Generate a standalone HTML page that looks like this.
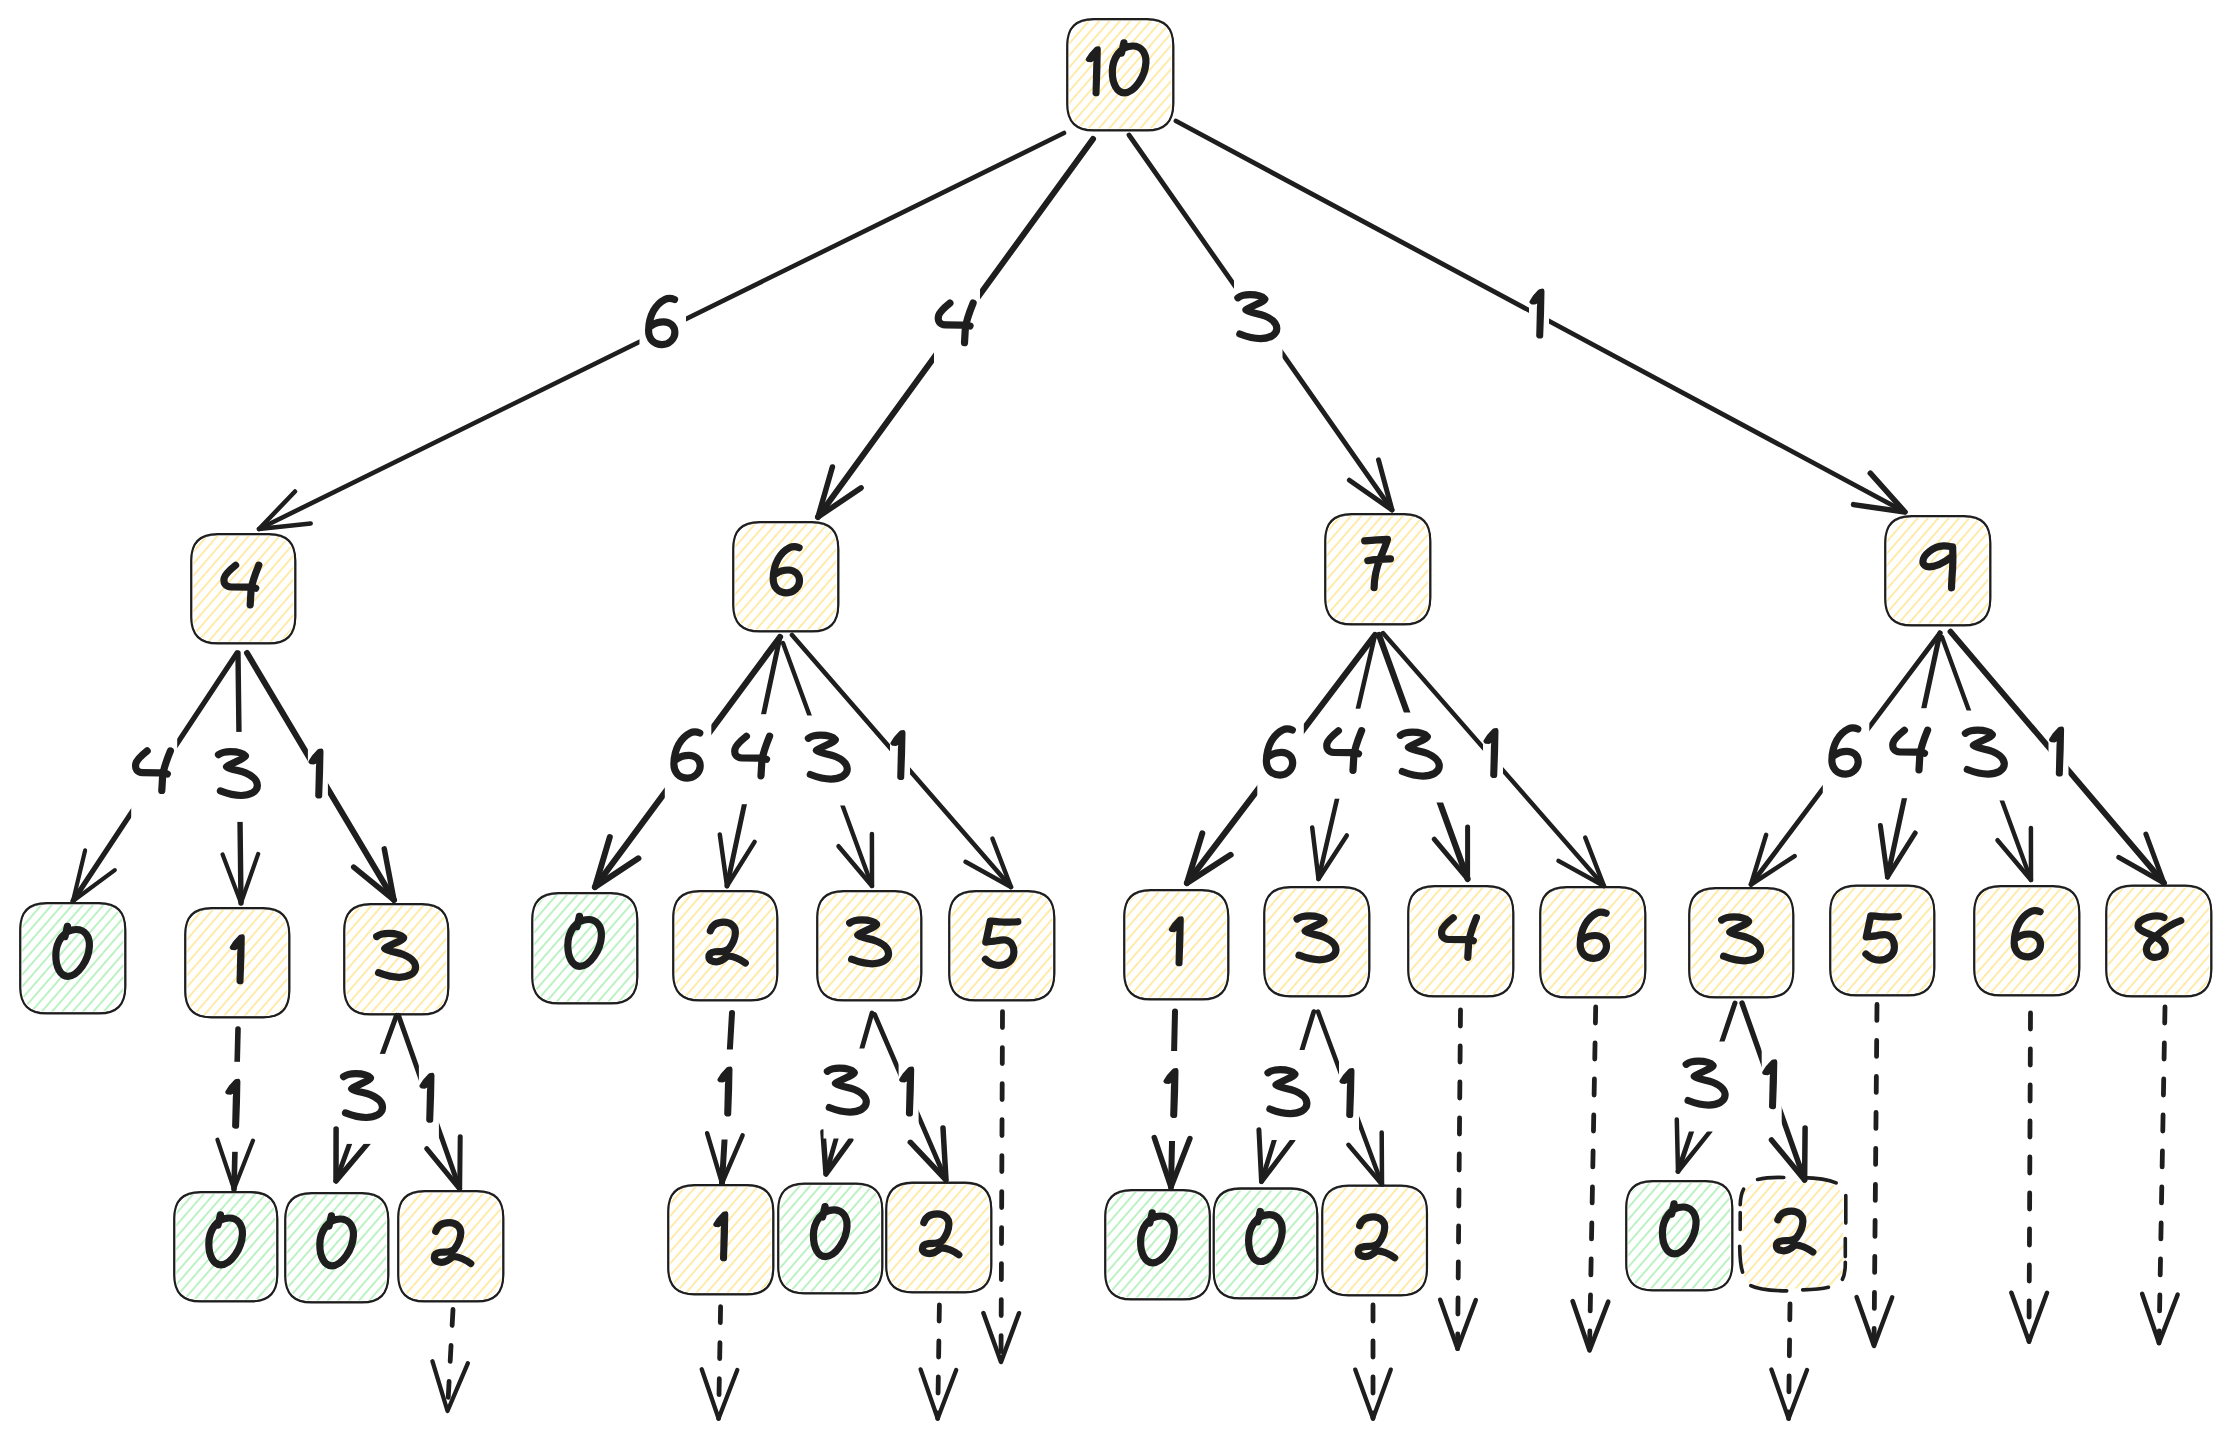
<!DOCTYPE html><html><head><meta charset="utf-8"><style>html,body{margin:0;padding:0;background:#fff;}body{width:2231px;height:1445px;overflow:hidden;font-family:"Liberation Sans",sans-serif;}svg{display:block;}</style></head><body><svg width="2231" height="1445" viewBox="0 0 2231 1445"><defs><pattern id="hy" patternUnits="userSpaceOnUse" width="40" height="7.8" patternTransform="rotate(-49)"><line x1="0" y1="1" x2="40" y2="1" stroke="#ffe38a" stroke-width="1.5"/></pattern><pattern id="hg" patternUnits="userSpaceOnUse" width="40" height="7.8" patternTransform="rotate(-49)"><line x1="0" y1="1" x2="40" y2="1" stroke="#a4eeae" stroke-width="1.5"/></pattern><mask id="m0" maskUnits="userSpaceOnUse" x="0" y="0" width="2231" height="1445"><rect x="0" y="0" width="2231" height="1445" fill="#fff"/><rect x="639.5" y="283" width="46.5" height="90" fill="#000"/></mask><mask id="m1" maskUnits="userSpaceOnUse" x="0" y="0" width="2231" height="1445"><rect x="0" y="0" width="2231" height="1445" fill="#fff"/><rect x="934" y="281.1" width="46" height="90" fill="#000"/></mask><mask id="m2" maskUnits="userSpaceOnUse" x="0" y="0" width="2231" height="1445"><rect x="0" y="0" width="2231" height="1445" fill="#fff"/><rect x="1234" y="275" width="48.5" height="90" fill="#000"/></mask><mask id="m3" maskUnits="userSpaceOnUse" x="0" y="0" width="2231" height="1445"><rect x="0" y="0" width="2231" height="1445" fill="#fff"/><rect x="1529" y="271.6" width="20" height="90" fill="#000"/></mask><mask id="m4" maskUnits="userSpaceOnUse" x="0" y="0" width="2231" height="1445"><rect x="0" y="0" width="2231" height="1445" fill="#fff"/><rect x="131.2" y="728.9" width="46" height="90" fill="#000"/></mask><mask id="m5" maskUnits="userSpaceOnUse" x="0" y="0" width="2231" height="1445"><rect x="0" y="0" width="2231" height="1445" fill="#fff"/><rect x="214.6" y="731.9" width="48.5" height="90" fill="#000"/></mask><mask id="m6" maskUnits="userSpaceOnUse" x="0" y="0" width="2231" height="1445"><rect x="0" y="0" width="2231" height="1445" fill="#fff"/><rect x="307.9" y="731.5" width="20" height="90" fill="#000"/></mask><mask id="m7" maskUnits="userSpaceOnUse" x="0" y="0" width="2231" height="1445"><rect x="0" y="0" width="2231" height="1445" fill="#fff"/><rect x="664.8" y="716.5" width="46.5" height="90" fill="#000"/></mask><mask id="m8" maskUnits="userSpaceOnUse" x="0" y="0" width="2231" height="1445"><rect x="0" y="0" width="2231" height="1445" fill="#fff"/><rect x="730.5" y="714.2" width="46" height="90" fill="#000"/></mask><mask id="m9" maskUnits="userSpaceOnUse" x="0" y="0" width="2231" height="1445"><rect x="0" y="0" width="2231" height="1445" fill="#fff"/><rect x="804.5" y="715.5" width="48.5" height="90" fill="#000"/></mask><mask id="m10" maskUnits="userSpaceOnUse" x="0" y="0" width="2231" height="1445"><rect x="0" y="0" width="2231" height="1445" fill="#fff"/><rect x="890" y="713" width="20" height="90" fill="#000"/></mask><mask id="m11" maskUnits="userSpaceOnUse" x="0" y="0" width="2231" height="1445"><rect x="0" y="0" width="2231" height="1445" fill="#fff"/><rect x="1257.3" y="713.5" width="46.5" height="90" fill="#000"/></mask><mask id="m12" maskUnits="userSpaceOnUse" x="0" y="0" width="2231" height="1445"><rect x="0" y="0" width="2231" height="1445" fill="#fff"/><rect x="1322.5" y="708.7" width="46" height="90" fill="#000"/></mask><mask id="m13" maskUnits="userSpaceOnUse" x="0" y="0" width="2231" height="1445"><rect x="0" y="0" width="2231" height="1445" fill="#fff"/><rect x="1396.5" y="712.5" width="48.5" height="90" fill="#000"/></mask><mask id="m14" maskUnits="userSpaceOnUse" x="0" y="0" width="2231" height="1445"><rect x="0" y="0" width="2231" height="1445" fill="#fff"/><rect x="1483" y="711" width="20" height="90" fill="#000"/></mask><mask id="m15" maskUnits="userSpaceOnUse" x="0" y="0" width="2231" height="1445"><rect x="0" y="0" width="2231" height="1445" fill="#fff"/><rect x="1822.8" y="712.5" width="46.5" height="90" fill="#000"/></mask><mask id="m16" maskUnits="userSpaceOnUse" x="0" y="0" width="2231" height="1445"><rect x="0" y="0" width="2231" height="1445" fill="#fff"/><rect x="1888.5" y="708.2" width="46" height="90" fill="#000"/></mask><mask id="m17" maskUnits="userSpaceOnUse" x="0" y="0" width="2231" height="1445"><rect x="0" y="0" width="2231" height="1445" fill="#fff"/><rect x="1961.5" y="710.5" width="48.5" height="90" fill="#000"/></mask><mask id="m18" maskUnits="userSpaceOnUse" x="0" y="0" width="2231" height="1445"><rect x="0" y="0" width="2231" height="1445" fill="#fff"/><rect x="2048.5" y="709.5" width="20" height="90" fill="#000"/></mask><mask id="m19" maskUnits="userSpaceOnUse" x="0" y="0" width="2231" height="1445"><rect x="0" y="0" width="2231" height="1445" fill="#fff"/><rect x="224.8" y="1061.8" width="20" height="90" fill="#000"/></mask><mask id="m20" maskUnits="userSpaceOnUse" x="0" y="0" width="2231" height="1445"><rect x="0" y="0" width="2231" height="1445" fill="#fff"/><rect x="339.7" y="1053.9" width="48.5" height="90" fill="#000"/></mask><mask id="m21" maskUnits="userSpaceOnUse" x="0" y="0" width="2231" height="1445"><rect x="0" y="0" width="2231" height="1445" fill="#fff"/><rect x="418.9" y="1055.7" width="20" height="90" fill="#000"/></mask><mask id="m23" maskUnits="userSpaceOnUse" x="0" y="0" width="2231" height="1445"><rect x="0" y="0" width="2231" height="1445" fill="#fff"/><rect x="717" y="1049.5" width="20" height="90" fill="#000"/></mask><mask id="m24" maskUnits="userSpaceOnUse" x="0" y="0" width="2231" height="1445"><rect x="0" y="0" width="2231" height="1445" fill="#fff"/><rect x="823.5" y="1048.5" width="48.5" height="90" fill="#000"/></mask><mask id="m25" maskUnits="userSpaceOnUse" x="0" y="0" width="2231" height="1445"><rect x="0" y="0" width="2231" height="1445" fill="#fff"/><rect x="898.6" y="1049.5" width="20" height="90" fill="#000"/></mask><mask id="m29" maskUnits="userSpaceOnUse" x="0" y="0" width="2231" height="1445"><rect x="0" y="0" width="2231" height="1445" fill="#fff"/><rect x="1163" y="1051" width="20" height="90" fill="#000"/></mask><mask id="m30" maskUnits="userSpaceOnUse" x="0" y="0" width="2231" height="1445"><rect x="0" y="0" width="2231" height="1445" fill="#fff"/><rect x="1264.1" y="1050" width="48.5" height="90" fill="#000"/></mask><mask id="m31" maskUnits="userSpaceOnUse" x="0" y="0" width="2231" height="1445"><rect x="0" y="0" width="2231" height="1445" fill="#fff"/><rect x="1339" y="1051" width="20" height="90" fill="#000"/></mask><mask id="m35" maskUnits="userSpaceOnUse" x="0" y="0" width="2231" height="1445"><rect x="0" y="0" width="2231" height="1445" fill="#fff"/><rect x="1682.3" y="1041.5" width="48.5" height="90" fill="#000"/></mask><mask id="m36" maskUnits="userSpaceOnUse" x="0" y="0" width="2231" height="1445"><rect x="0" y="0" width="2231" height="1445" fill="#fff"/><rect x="1761.7" y="1042.3" width="20" height="90" fill="#000"/></mask></defs><rect width="2231" height="1445" fill="#ffffff"/><g><path d="M1093.3 21 L1147.2 21 Q1171.2 21 1171.2 45 L1171.2 104.4 Q1171.2 128.4 1147.2 128.4 L1093.3 128.4 Q1069.3 128.4 1069.3 104.4 L1069.3 45 Q1069.3 21 1093.3 21 Z" fill="url(#hy)"/><path d="M1093.3 19 L1147.2 19 Q1173.2 19 1173.2 45 L1173.2 104.4 Q1173.2 130.4 1147.2 130.4 L1093.3 130.4 Q1067.3 130.4 1067.3 104.4 L1067.3 45 Q1067.3 19 1093.3 19 Z" fill="none" stroke="#1e1e1e" stroke-width="2.1"/><path d="M1094.2 19.9 L1146.4 19.9 Q1173.9 19.9 1173.9 47.4 L1173.9 102.4 Q1173.9 129.9 1146.4 129.9 L1094.2 129.9 Q1066.7 129.9 1066.7 102.4 L1066.7 47.4 Q1066.7 19.9 1094.2 19.9 Z" fill="none" stroke="#1e1e1e" stroke-width="0.9" opacity="0.85"/><path d="M217.3 536 L269.2 536 Q293.2 536 293.2 560 L293.2 617.4 Q293.2 641.4 269.2 641.4 L217.3 641.4 Q193.3 641.4 193.3 617.4 L193.3 560 Q193.3 536 217.3 536 Z" fill="url(#hy)"/><path d="M217.3 534 L269.2 534 Q295.2 534 295.2 560 L295.2 617.4 Q295.2 643.4 269.2 643.4 L217.3 643.4 Q191.3 643.4 191.3 617.4 L191.3 560 Q191.3 534 217.3 534 Z" fill="none" stroke="#1e1e1e" stroke-width="2.1"/><path d="M218.2 534.9 L268.4 534.9 Q295.9 534.9 295.9 562.4 L295.9 615.4 Q295.9 642.9 268.4 642.9 L218.2 642.9 Q190.7 642.9 190.7 615.4 L190.7 562.4 Q190.7 534.9 218.2 534.9 Z" fill="none" stroke="#1e1e1e" stroke-width="0.9" opacity="0.85"/><path d="M759.3 524 L812.2 524 Q836.2 524 836.2 548 L836.2 605.4 Q836.2 629.4 812.2 629.4 L759.3 629.4 Q735.3 629.4 735.3 605.4 L735.3 548 Q735.3 524 759.3 524 Z" fill="url(#hy)"/><path d="M759.3 522 L812.2 522 Q838.2 522 838.2 548 L838.2 605.4 Q838.2 631.4 812.2 631.4 L759.3 631.4 Q733.3 631.4 733.3 605.4 L733.3 548 Q733.3 522 759.3 522 Z" fill="none" stroke="#1e1e1e" stroke-width="2.1"/><path d="M760.2 522.9 L811.4 522.9 Q838.9 522.9 838.9 550.4 L838.9 603.4 Q838.9 630.9 811.4 630.9 L760.2 630.9 Q732.7 630.9 732.7 603.4 L732.7 550.4 Q732.7 522.9 760.2 522.9 Z" fill="none" stroke="#1e1e1e" stroke-width="0.9" opacity="0.85"/><path d="M1351.3 516 L1404.2 516 Q1428.2 516 1428.2 540 L1428.2 598.4 Q1428.2 622.4 1404.2 622.4 L1351.3 622.4 Q1327.3 622.4 1327.3 598.4 L1327.3 540 Q1327.3 516 1351.3 516 Z" fill="url(#hy)"/><path d="M1351.3 514 L1404.2 514 Q1430.2 514 1430.2 540 L1430.2 598.4 Q1430.2 624.4 1404.2 624.4 L1351.3 624.4 Q1325.3 624.4 1325.3 598.4 L1325.3 540 Q1325.3 514 1351.3 514 Z" fill="none" stroke="#1e1e1e" stroke-width="2.1"/><path d="M1352.2 514.9 L1403.4 514.9 Q1430.9 514.9 1430.9 542.4 L1430.9 596.4 Q1430.9 623.9 1403.4 623.9 L1352.2 623.9 Q1324.7 623.9 1324.7 596.4 L1324.7 542.4 Q1324.7 514.9 1352.2 514.9 Z" fill="none" stroke="#1e1e1e" stroke-width="0.9" opacity="0.85"/><path d="M1911.3 518 L1964.2 518 Q1988.2 518 1988.2 542 L1988.2 599.4 Q1988.2 623.4 1964.2 623.4 L1911.3 623.4 Q1887.3 623.4 1887.3 599.4 L1887.3 542 Q1887.3 518 1911.3 518 Z" fill="url(#hy)"/><path d="M1911.3 516 L1964.2 516 Q1990.2 516 1990.2 542 L1990.2 599.4 Q1990.2 625.4 1964.2 625.4 L1911.3 625.4 Q1885.3 625.4 1885.3 599.4 L1885.3 542 Q1885.3 516 1911.3 516 Z" fill="none" stroke="#1e1e1e" stroke-width="2.1"/><path d="M1912.2 516.9 L1963.4 516.9 Q1990.9 516.9 1990.9 544.4 L1990.9 597.4 Q1990.9 624.9 1963.4 624.9 L1912.2 624.9 Q1884.7 624.9 1884.7 597.4 L1884.7 544.4 Q1884.7 516.9 1912.2 516.9 Z" fill="none" stroke="#1e1e1e" stroke-width="0.9" opacity="0.85"/><path d="M46.3 905 L99.2 905 Q123.2 905 123.2 929 L123.2 987.4 Q123.2 1011.4 99.2 1011.4 L46.3 1011.4 Q22.3 1011.4 22.3 987.4 L22.3 929 Q22.3 905 46.3 905 Z" fill="url(#hg)"/><path d="M46.3 903 L99.2 903 Q125.2 903 125.2 929 L125.2 987.4 Q125.2 1013.4 99.2 1013.4 L46.3 1013.4 Q20.3 1013.4 20.3 987.4 L20.3 929 Q20.3 903 46.3 903 Z" fill="none" stroke="#1e1e1e" stroke-width="2.1"/><path d="M47.2 903.9 L98.4 903.9 Q125.9 903.9 125.9 931.4 L125.9 985.4 Q125.9 1012.9 98.4 1012.9 L47.2 1012.9 Q19.7 1012.9 19.7 985.4 L19.7 931.4 Q19.7 903.9 47.2 903.9 Z" fill="none" stroke="#1e1e1e" stroke-width="0.9" opacity="0.85"/><path d="M211.3 910 L263.2 910 Q287.2 910 287.2 934 L287.2 991.4 Q287.2 1015.4 263.2 1015.4 L211.3 1015.4 Q187.3 1015.4 187.3 991.4 L187.3 934 Q187.3 910 211.3 910 Z" fill="url(#hy)"/><path d="M211.3 908 L263.2 908 Q289.2 908 289.2 934 L289.2 991.4 Q289.2 1017.4 263.2 1017.4 L211.3 1017.4 Q185.3 1017.4 185.3 991.4 L185.3 934 Q185.3 908 211.3 908 Z" fill="none" stroke="#1e1e1e" stroke-width="2.1"/><path d="M212.2 908.9 L262.4 908.9 Q289.9 908.9 289.9 936.4 L289.9 989.4 Q289.9 1016.9 262.4 1016.9 L212.2 1016.9 Q184.7 1016.9 184.7 989.4 L184.7 936.4 Q184.7 908.9 212.2 908.9 Z" fill="none" stroke="#1e1e1e" stroke-width="0.9" opacity="0.85"/><path d="M370.3 906 L422.2 906 Q446.2 906 446.2 930 L446.2 988.4 Q446.2 1012.4 422.2 1012.4 L370.3 1012.4 Q346.3 1012.4 346.3 988.4 L346.3 930 Q346.3 906 370.3 906 Z" fill="url(#hy)"/><path d="M370.3 904 L422.2 904 Q448.2 904 448.2 930 L448.2 988.4 Q448.2 1014.4 422.2 1014.4 L370.3 1014.4 Q344.3 1014.4 344.3 988.4 L344.3 930 Q344.3 904 370.3 904 Z" fill="none" stroke="#1e1e1e" stroke-width="2.1"/><path d="M371.2 904.9 L421.4 904.9 Q448.9 904.9 448.9 932.4 L448.9 986.4 Q448.9 1013.9 421.4 1013.9 L371.2 1013.9 Q343.7 1013.9 343.7 986.4 L343.7 932.4 Q343.7 904.9 371.2 904.9 Z" fill="none" stroke="#1e1e1e" stroke-width="0.9" opacity="0.85"/><path d="M558.3 895 L611.2 895 Q635.2 895 635.2 919 L635.2 977.4 Q635.2 1001.4 611.2 1001.4 L558.3 1001.4 Q534.3 1001.4 534.3 977.4 L534.3 919 Q534.3 895 558.3 895 Z" fill="url(#hg)"/><path d="M558.3 893 L611.2 893 Q637.2 893 637.2 919 L637.2 977.4 Q637.2 1003.4 611.2 1003.4 L558.3 1003.4 Q532.3 1003.4 532.3 977.4 L532.3 919 Q532.3 893 558.3 893 Z" fill="none" stroke="#1e1e1e" stroke-width="2.1"/><path d="M559.2 893.9 L610.4 893.9 Q637.9 893.9 637.9 921.4 L637.9 975.4 Q637.9 1002.9 610.4 1002.9 L559.2 1002.9 Q531.7 1002.9 531.7 975.4 L531.7 921.4 Q531.7 893.9 559.2 893.9 Z" fill="none" stroke="#1e1e1e" stroke-width="0.9" opacity="0.85"/><path d="M699.3 893 L751.2 893 Q775.2 893 775.2 917 L775.2 974.4 Q775.2 998.4 751.2 998.4 L699.3 998.4 Q675.3 998.4 675.3 974.4 L675.3 917 Q675.3 893 699.3 893 Z" fill="url(#hy)"/><path d="M699.3 891 L751.2 891 Q777.2 891 777.2 917 L777.2 974.4 Q777.2 1000.4 751.2 1000.4 L699.3 1000.4 Q673.3 1000.4 673.3 974.4 L673.3 917 Q673.3 891 699.3 891 Z" fill="none" stroke="#1e1e1e" stroke-width="2.1"/><path d="M700.2 891.9 L750.4 891.9 Q777.9 891.9 777.9 919.4 L777.9 972.4 Q777.9 999.9 750.4 999.9 L700.2 999.9 Q672.7 999.9 672.7 972.4 L672.7 919.4 Q672.7 891.9 700.2 891.9 Z" fill="none" stroke="#1e1e1e" stroke-width="0.9" opacity="0.85"/><path d="M843.3 893 L895.2 893 Q919.2 893 919.2 917 L919.2 974.4 Q919.2 998.4 895.2 998.4 L843.3 998.4 Q819.3 998.4 819.3 974.4 L819.3 917 Q819.3 893 843.3 893 Z" fill="url(#hy)"/><path d="M843.3 891 L895.2 891 Q921.2 891 921.2 917 L921.2 974.4 Q921.2 1000.4 895.2 1000.4 L843.3 1000.4 Q817.3 1000.4 817.3 974.4 L817.3 917 Q817.3 891 843.3 891 Z" fill="none" stroke="#1e1e1e" stroke-width="2.1"/><path d="M844.2 891.9 L894.4 891.9 Q921.9 891.9 921.9 919.4 L921.9 972.4 Q921.9 999.9 894.4 999.9 L844.2 999.9 Q816.7 999.9 816.7 972.4 L816.7 919.4 Q816.7 891.9 844.2 891.9 Z" fill="none" stroke="#1e1e1e" stroke-width="0.9" opacity="0.85"/><path d="M975.3 893 L1028.2 893 Q1052.2 893 1052.2 917 L1052.2 974.4 Q1052.2 998.4 1028.2 998.4 L975.3 998.4 Q951.3 998.4 951.3 974.4 L951.3 917 Q951.3 893 975.3 893 Z" fill="url(#hy)"/><path d="M975.3 891 L1028.2 891 Q1054.2 891 1054.2 917 L1054.2 974.4 Q1054.2 1000.4 1028.2 1000.4 L975.3 1000.4 Q949.3 1000.4 949.3 974.4 L949.3 917 Q949.3 891 975.3 891 Z" fill="none" stroke="#1e1e1e" stroke-width="2.1"/><path d="M976.2 891.9 L1027.4 891.9 Q1054.9 891.9 1054.9 919.4 L1054.9 972.4 Q1054.9 999.9 1027.4 999.9 L976.2 999.9 Q948.7 999.9 948.7 972.4 L948.7 919.4 Q948.7 891.9 976.2 891.9 Z" fill="none" stroke="#1e1e1e" stroke-width="0.9" opacity="0.85"/><path d="M1150.3 892 L1202.2 892 Q1226.2 892 1226.2 916 L1226.2 973.4 Q1226.2 997.4 1202.2 997.4 L1150.3 997.4 Q1126.3 997.4 1126.3 973.4 L1126.3 916 Q1126.3 892 1150.3 892 Z" fill="url(#hy)"/><path d="M1150.3 890 L1202.2 890 Q1228.2 890 1228.2 916 L1228.2 973.4 Q1228.2 999.4 1202.2 999.4 L1150.3 999.4 Q1124.3 999.4 1124.3 973.4 L1124.3 916 Q1124.3 890 1150.3 890 Z" fill="none" stroke="#1e1e1e" stroke-width="2.1"/><path d="M1151.2 890.9 L1201.4 890.9 Q1228.9 890.9 1228.9 918.4 L1228.9 971.4 Q1228.9 998.9 1201.4 998.9 L1151.2 998.9 Q1123.7 998.9 1123.7 971.4 L1123.7 918.4 Q1123.7 890.9 1151.2 890.9 Z" fill="none" stroke="#1e1e1e" stroke-width="0.9" opacity="0.85"/><path d="M1290.3 889 L1343.2 889 Q1367.2 889 1367.2 913 L1367.2 970.4 Q1367.2 994.4 1343.2 994.4 L1290.3 994.4 Q1266.3 994.4 1266.3 970.4 L1266.3 913 Q1266.3 889 1290.3 889 Z" fill="url(#hy)"/><path d="M1290.3 887 L1343.2 887 Q1369.2 887 1369.2 913 L1369.2 970.4 Q1369.2 996.4 1343.2 996.4 L1290.3 996.4 Q1264.3 996.4 1264.3 970.4 L1264.3 913 Q1264.3 887 1290.3 887 Z" fill="none" stroke="#1e1e1e" stroke-width="2.1"/><path d="M1291.2 887.9 L1342.4 887.9 Q1369.9 887.9 1369.9 915.4 L1369.9 968.4 Q1369.9 995.9 1342.4 995.9 L1291.2 995.9 Q1263.7 995.9 1263.7 968.4 L1263.7 915.4 Q1263.7 887.9 1291.2 887.9 Z" fill="none" stroke="#1e1e1e" stroke-width="0.9" opacity="0.85"/><path d="M1434.3 888 L1487.2 888 Q1511.2 888 1511.2 912 L1511.2 970.4 Q1511.2 994.4 1487.2 994.4 L1434.3 994.4 Q1410.3 994.4 1410.3 970.4 L1410.3 912 Q1410.3 888 1434.3 888 Z" fill="url(#hy)"/><path d="M1434.3 886 L1487.2 886 Q1513.2 886 1513.2 912 L1513.2 970.4 Q1513.2 996.4 1487.2 996.4 L1434.3 996.4 Q1408.3 996.4 1408.3 970.4 L1408.3 912 Q1408.3 886 1434.3 886 Z" fill="none" stroke="#1e1e1e" stroke-width="2.1"/><path d="M1435.2 886.9 L1486.4 886.9 Q1513.9 886.9 1513.9 914.4 L1513.9 968.4 Q1513.9 995.9 1486.4 995.9 L1435.2 995.9 Q1407.7 995.9 1407.7 968.4 L1407.7 914.4 Q1407.7 886.9 1435.2 886.9 Z" fill="none" stroke="#1e1e1e" stroke-width="0.9" opacity="0.85"/><path d="M1566.3 889 L1619.2 889 Q1643.2 889 1643.2 913 L1643.2 971.4 Q1643.2 995.4 1619.2 995.4 L1566.3 995.4 Q1542.3 995.4 1542.3 971.4 L1542.3 913 Q1542.3 889 1566.3 889 Z" fill="url(#hy)"/><path d="M1566.3 887 L1619.2 887 Q1645.2 887 1645.2 913 L1645.2 971.4 Q1645.2 997.4 1619.2 997.4 L1566.3 997.4 Q1540.3 997.4 1540.3 971.4 L1540.3 913 Q1540.3 887 1566.3 887 Z" fill="none" stroke="#1e1e1e" stroke-width="2.1"/><path d="M1567.2 887.9 L1618.4 887.9 Q1645.9 887.9 1645.9 915.4 L1645.9 969.4 Q1645.9 996.9 1618.4 996.9 L1567.2 996.9 Q1539.7 996.9 1539.7 969.4 L1539.7 915.4 Q1539.7 887.9 1567.2 887.9 Z" fill="none" stroke="#1e1e1e" stroke-width="0.9" opacity="0.85"/><path d="M1715.3 890 L1767.2 890 Q1791.2 890 1791.2 914 L1791.2 971.4 Q1791.2 995.4 1767.2 995.4 L1715.3 995.4 Q1691.3 995.4 1691.3 971.4 L1691.3 914 Q1691.3 890 1715.3 890 Z" fill="url(#hy)"/><path d="M1715.3 888 L1767.2 888 Q1793.2 888 1793.2 914 L1793.2 971.4 Q1793.2 997.4 1767.2 997.4 L1715.3 997.4 Q1689.3 997.4 1689.3 971.4 L1689.3 914 Q1689.3 888 1715.3 888 Z" fill="none" stroke="#1e1e1e" stroke-width="2.1"/><path d="M1716.2 888.9 L1766.4 888.9 Q1793.9 888.9 1793.9 916.4 L1793.9 969.4 Q1793.9 996.9 1766.4 996.9 L1716.2 996.9 Q1688.7 996.9 1688.7 969.4 L1688.7 916.4 Q1688.7 888.9 1716.2 888.9 Z" fill="none" stroke="#1e1e1e" stroke-width="0.9" opacity="0.85"/><path d="M1856.3 887.5 L1908.2 887.5 Q1932.2 887.5 1932.2 911.5 L1932.2 969.4 Q1932.2 993.4 1908.2 993.4 L1856.3 993.4 Q1832.3 993.4 1832.3 969.4 L1832.3 911.5 Q1832.3 887.5 1856.3 887.5 Z" fill="url(#hy)"/><path d="M1856.3 885.5 L1908.2 885.5 Q1934.2 885.5 1934.2 911.5 L1934.2 969.4 Q1934.2 995.4 1908.2 995.4 L1856.3 995.4 Q1830.3 995.4 1830.3 969.4 L1830.3 911.5 Q1830.3 885.5 1856.3 885.5 Z" fill="none" stroke="#1e1e1e" stroke-width="2.1"/><path d="M1857.2 886.4 L1907.4 886.4 Q1934.9 886.4 1934.9 913.9 L1934.9 967.4 Q1934.9 994.9 1907.4 994.9 L1857.2 994.9 Q1829.7 994.9 1829.7 967.4 L1829.7 913.9 Q1829.7 886.4 1857.2 886.4 Z" fill="none" stroke="#1e1e1e" stroke-width="0.9" opacity="0.85"/><path d="M2000.3 888 L2053.2 888 Q2077.2 888 2077.2 912 L2077.2 969.4 Q2077.2 993.4 2053.2 993.4 L2000.3 993.4 Q1976.3 993.4 1976.3 969.4 L1976.3 912 Q1976.3 888 2000.3 888 Z" fill="url(#hy)"/><path d="M2000.3 886 L2053.2 886 Q2079.2 886 2079.2 912 L2079.2 969.4 Q2079.2 995.4 2053.2 995.4 L2000.3 995.4 Q1974.3 995.4 1974.3 969.4 L1974.3 912 Q1974.3 886 2000.3 886 Z" fill="none" stroke="#1e1e1e" stroke-width="2.1"/><path d="M2001.2 886.9 L2052.4 886.9 Q2079.9 886.9 2079.9 914.4 L2079.9 967.4 Q2079.9 994.9 2052.4 994.9 L2001.2 994.9 Q1973.7 994.9 1973.7 967.4 L1973.7 914.4 Q1973.7 886.9 2001.2 886.9 Z" fill="none" stroke="#1e1e1e" stroke-width="0.9" opacity="0.85"/><path d="M2132.3 887.5 L2185.2 887.5 Q2209.2 887.5 2209.2 911.5 L2209.2 970.4 Q2209.2 994.4 2185.2 994.4 L2132.3 994.4 Q2108.3 994.4 2108.3 970.4 L2108.3 911.5 Q2108.3 887.5 2132.3 887.5 Z" fill="url(#hy)"/><path d="M2132.3 885.5 L2185.2 885.5 Q2211.2 885.5 2211.2 911.5 L2211.2 970.4 Q2211.2 996.4 2185.2 996.4 L2132.3 996.4 Q2106.3 996.4 2106.3 970.4 L2106.3 911.5 Q2106.3 885.5 2132.3 885.5 Z" fill="none" stroke="#1e1e1e" stroke-width="2.1"/><path d="M2133.2 886.4 L2184.4 886.4 Q2211.9 886.4 2211.9 913.9 L2211.9 968.4 Q2211.9 995.9 2184.4 995.9 L2133.2 995.9 Q2105.7 995.9 2105.7 968.4 L2105.7 913.9 Q2105.7 886.4 2133.2 886.4 Z" fill="none" stroke="#1e1e1e" stroke-width="0.9" opacity="0.85"/><path d="M200.3 1194 L251.2 1194 Q275.2 1194 275.2 1218 L275.2 1275.4 Q275.2 1299.4 251.2 1299.4 L200.3 1299.4 Q176.3 1299.4 176.3 1275.4 L176.3 1218 Q176.3 1194 200.3 1194 Z" fill="url(#hg)"/><path d="M200.3 1192 L251.2 1192 Q277.2 1192 277.2 1218 L277.2 1275.4 Q277.2 1301.4 251.2 1301.4 L200.3 1301.4 Q174.3 1301.4 174.3 1275.4 L174.3 1218 Q174.3 1192 200.3 1192 Z" fill="none" stroke="#1e1e1e" stroke-width="2.1"/><path d="M201.2 1192.9 L250.4 1192.9 Q277.9 1192.9 277.9 1220.4 L277.9 1273.4 Q277.9 1300.9 250.4 1300.9 L201.2 1300.9 Q173.7 1300.9 173.7 1273.4 L173.7 1220.4 Q173.7 1192.9 201.2 1192.9 Z" fill="none" stroke="#1e1e1e" stroke-width="0.9" opacity="0.85"/><path d="M311.3 1195 L362.2 1195 Q386.2 1195 386.2 1219 L386.2 1276.4 Q386.2 1300.4 362.2 1300.4 L311.3 1300.4 Q287.3 1300.4 287.3 1276.4 L287.3 1219 Q287.3 1195 311.3 1195 Z" fill="url(#hg)"/><path d="M311.3 1193 L362.2 1193 Q388.2 1193 388.2 1219 L388.2 1276.4 Q388.2 1302.4 362.2 1302.4 L311.3 1302.4 Q285.3 1302.4 285.3 1276.4 L285.3 1219 Q285.3 1193 311.3 1193 Z" fill="none" stroke="#1e1e1e" stroke-width="2.1"/><path d="M312.2 1193.9 L361.4 1193.9 Q388.9 1193.9 388.9 1221.4 L388.9 1274.4 Q388.9 1301.9 361.4 1301.9 L312.2 1301.9 Q284.7 1301.9 284.7 1274.4 L284.7 1221.4 Q284.7 1193.9 312.2 1193.9 Z" fill="none" stroke="#1e1e1e" stroke-width="0.9" opacity="0.85"/><path d="M424.3 1193 L477.2 1193 Q501.2 1193 501.2 1217 L501.2 1275.4 Q501.2 1299.4 477.2 1299.4 L424.3 1299.4 Q400.3 1299.4 400.3 1275.4 L400.3 1217 Q400.3 1193 424.3 1193 Z" fill="url(#hy)"/><path d="M424.3 1191 L477.2 1191 Q503.2 1191 503.2 1217 L503.2 1275.4 Q503.2 1301.4 477.2 1301.4 L424.3 1301.4 Q398.3 1301.4 398.3 1275.4 L398.3 1217 Q398.3 1191 424.3 1191 Z" fill="none" stroke="#1e1e1e" stroke-width="2.1"/><path d="M425.2 1191.9 L476.4 1191.9 Q503.9 1191.9 503.9 1219.4 L503.9 1273.4 Q503.9 1300.9 476.4 1300.9 L425.2 1300.9 Q397.7 1300.9 397.7 1273.4 L397.7 1219.4 Q397.7 1191.9 425.2 1191.9 Z" fill="none" stroke="#1e1e1e" stroke-width="0.9" opacity="0.85"/><path d="M694.3 1187 L747.2 1187 Q771.2 1187 771.2 1211 L771.2 1268.4 Q771.2 1292.4 747.2 1292.4 L694.3 1292.4 Q670.3 1292.4 670.3 1268.4 L670.3 1211 Q670.3 1187 694.3 1187 Z" fill="url(#hy)"/><path d="M694.3 1185 L747.2 1185 Q773.2 1185 773.2 1211 L773.2 1268.4 Q773.2 1294.4 747.2 1294.4 L694.3 1294.4 Q668.3 1294.4 668.3 1268.4 L668.3 1211 Q668.3 1185 694.3 1185 Z" fill="none" stroke="#1e1e1e" stroke-width="2.1"/><path d="M695.2 1185.9 L746.4 1185.9 Q773.9 1185.9 773.9 1213.4 L773.9 1266.4 Q773.9 1293.9 746.4 1293.9 L695.2 1293.9 Q667.7 1293.9 667.7 1266.4 L667.7 1213.4 Q667.7 1185.9 695.2 1185.9 Z" fill="none" stroke="#1e1e1e" stroke-width="0.9" opacity="0.85"/><path d="M804.3 1185.5 L856.2 1185.5 Q880.2 1185.5 880.2 1209.5 L880.2 1267.4 Q880.2 1291.4 856.2 1291.4 L804.3 1291.4 Q780.3 1291.4 780.3 1267.4 L780.3 1209.5 Q780.3 1185.5 804.3 1185.5 Z" fill="url(#hg)"/><path d="M804.3 1183.5 L856.2 1183.5 Q882.2 1183.5 882.2 1209.5 L882.2 1267.4 Q882.2 1293.4 856.2 1293.4 L804.3 1293.4 Q778.3 1293.4 778.3 1267.4 L778.3 1209.5 Q778.3 1183.5 804.3 1183.5 Z" fill="none" stroke="#1e1e1e" stroke-width="2.1"/><path d="M805.2 1184.4 L855.4 1184.4 Q882.9 1184.4 882.9 1211.9 L882.9 1265.4 Q882.9 1292.9 855.4 1292.9 L805.2 1292.9 Q777.7 1292.9 777.7 1265.4 L777.7 1211.9 Q777.7 1184.4 805.2 1184.4 Z" fill="none" stroke="#1e1e1e" stroke-width="0.9" opacity="0.85"/><path d="M912.3 1184.6 L965.2 1184.6 Q989.2 1184.6 989.2 1208.6 L989.2 1266.4 Q989.2 1290.4 965.2 1290.4 L912.3 1290.4 Q888.3 1290.4 888.3 1266.4 L888.3 1208.6 Q888.3 1184.6 912.3 1184.6 Z" fill="url(#hy)"/><path d="M912.3 1182.6 L965.2 1182.6 Q991.2 1182.6 991.2 1208.6 L991.2 1266.4 Q991.2 1292.4 965.2 1292.4 L912.3 1292.4 Q886.3 1292.4 886.3 1266.4 L886.3 1208.6 Q886.3 1182.6 912.3 1182.6 Z" fill="none" stroke="#1e1e1e" stroke-width="2.1"/><path d="M913.2 1183.5 L964.4 1183.5 Q991.9 1183.5 991.9 1211 L991.9 1264.4 Q991.9 1291.9 964.4 1291.9 L913.2 1291.9 Q885.7 1291.9 885.7 1264.4 L885.7 1211 Q885.7 1183.5 913.2 1183.5 Z" fill="none" stroke="#1e1e1e" stroke-width="0.9" opacity="0.85"/><path d="M1131.3 1192 L1183.8 1192 Q1207.8 1192 1207.8 1216 L1207.8 1273.4 Q1207.8 1297.4 1183.8 1297.4 L1131.3 1297.4 Q1107.3 1297.4 1107.3 1273.4 L1107.3 1216 Q1107.3 1192 1131.3 1192 Z" fill="url(#hg)"/><path d="M1131.3 1190 L1183.8 1190 Q1209.8 1190 1209.8 1216 L1209.8 1273.4 Q1209.8 1299.4 1183.8 1299.4 L1131.3 1299.4 Q1105.3 1299.4 1105.3 1273.4 L1105.3 1216 Q1105.3 1190 1131.3 1190 Z" fill="none" stroke="#1e1e1e" stroke-width="2.1"/><path d="M1132.2 1190.9 L1183 1190.9 Q1210.5 1190.9 1210.5 1218.4 L1210.5 1271.4 Q1210.5 1298.9 1183 1298.9 L1132.2 1298.9 Q1104.7 1298.9 1104.7 1271.4 L1104.7 1218.4 Q1104.7 1190.9 1132.2 1190.9 Z" fill="none" stroke="#1e1e1e" stroke-width="0.9" opacity="0.85"/><path d="M1239.8 1190.4 L1291.2 1190.4 Q1315.2 1190.4 1315.2 1214.4 L1315.2 1272.4 Q1315.2 1296.4 1291.2 1296.4 L1239.8 1296.4 Q1215.8 1296.4 1215.8 1272.4 L1215.8 1214.4 Q1215.8 1190.4 1239.8 1190.4 Z" fill="url(#hg)"/><path d="M1239.8 1188.4 L1291.2 1188.4 Q1317.2 1188.4 1317.2 1214.4 L1317.2 1272.4 Q1317.2 1298.4 1291.2 1298.4 L1239.8 1298.4 Q1213.8 1298.4 1213.8 1272.4 L1213.8 1214.4 Q1213.8 1188.4 1239.8 1188.4 Z" fill="none" stroke="#1e1e1e" stroke-width="2.1"/><path d="M1240.7 1189.3 L1290.4 1189.3 Q1317.9 1189.3 1317.9 1216.8 L1317.9 1270.4 Q1317.9 1297.9 1290.4 1297.9 L1240.7 1297.9 Q1213.2 1297.9 1213.2 1270.4 L1213.2 1216.8 Q1213.2 1189.3 1240.7 1189.3 Z" fill="none" stroke="#1e1e1e" stroke-width="0.9" opacity="0.85"/><path d="M1348.3 1187.5 L1400.9 1187.5 Q1424.9 1187.5 1424.9 1211.5 L1424.9 1269.4 Q1424.9 1293.4 1400.9 1293.4 L1348.3 1293.4 Q1324.3 1293.4 1324.3 1269.4 L1324.3 1211.5 Q1324.3 1187.5 1348.3 1187.5 Z" fill="url(#hy)"/><path d="M1348.3 1185.5 L1400.9 1185.5 Q1426.9 1185.5 1426.9 1211.5 L1426.9 1269.4 Q1426.9 1295.4 1400.9 1295.4 L1348.3 1295.4 Q1322.3 1295.4 1322.3 1269.4 L1322.3 1211.5 Q1322.3 1185.5 1348.3 1185.5 Z" fill="none" stroke="#1e1e1e" stroke-width="2.1"/><path d="M1349.2 1186.4 L1400.1 1186.4 Q1427.6 1186.4 1427.6 1213.9 L1427.6 1267.4 Q1427.6 1294.9 1400.1 1294.9 L1349.2 1294.9 Q1321.7 1294.9 1321.7 1267.4 L1321.7 1213.9 Q1321.7 1186.4 1349.2 1186.4 Z" fill="none" stroke="#1e1e1e" stroke-width="0.9" opacity="0.85"/><path d="M1652.3 1183 L1706.2 1183 Q1730.2 1183 1730.2 1207 L1730.2 1264.4 Q1730.2 1288.4 1706.2 1288.4 L1652.3 1288.4 Q1628.3 1288.4 1628.3 1264.4 L1628.3 1207 Q1628.3 1183 1652.3 1183 Z" fill="url(#hg)"/><path d="M1652.3 1181 L1706.2 1181 Q1732.2 1181 1732.2 1207 L1732.2 1264.4 Q1732.2 1290.4 1706.2 1290.4 L1652.3 1290.4 Q1626.3 1290.4 1626.3 1264.4 L1626.3 1207 Q1626.3 1181 1652.3 1181 Z" fill="none" stroke="#1e1e1e" stroke-width="2.1"/><path d="M1653.2 1181.9 L1705.4 1181.9 Q1732.9 1181.9 1732.9 1209.4 L1732.9 1262.4 Q1732.9 1289.9 1705.4 1289.9 L1653.2 1289.9 Q1625.7 1289.9 1625.7 1262.4 L1625.7 1209.4 Q1625.7 1181.9 1653.2 1181.9 Z" fill="none" stroke="#1e1e1e" stroke-width="0.9" opacity="0.85"/><path d="M1766.3 1181 L1819.2 1181 Q1843.2 1181 1843.2 1205 L1843.2 1264.4 Q1843.2 1288.4 1819.2 1288.4 L1766.3 1288.4 Q1742.3 1288.4 1742.3 1264.4 L1742.3 1205 Q1742.3 1181 1766.3 1181 Z" fill="url(#hy)"/><path d="M1757.6 1179.5 Q1768 1177 1783.8 1177.5 M1802.7 1177.6 Q1825 1177.8 1836.1 1182.9 M1845.8 1195.5 L1845.8 1223.1 M1845.3 1238.6 L1845.3 1256.6 M1845.3 1262.4 Q1845.5 1273 1842.4 1279.4 M1750.8 1285.6 Q1760 1290.5 1786.7 1290.9 M1802.7 1289.9 Q1820 1289.5 1828.4 1287.3 M1743.6 1189.2 Q1740.5 1195 1740.2 1204.7 M1740.2 1212.5 L1740.2 1229.4 M1739.7 1246.4 Q1740 1265 1742.6 1272.1" fill="none" stroke="#1e1e1e" stroke-width="3.6" stroke-linecap="round"/></g><g fill="none" stroke="#1e1e1e" stroke-width="4.6" stroke-linecap="round" stroke-linejoin="round"><line x1="1064" y1="133" x2="259" y2="529" stroke-width="4.6" mask="url(#m0)"/><path stroke-width="4.5" mask="url(#m0)" d="M310.7 523.4 L259 529 L295 491.5"/><line x1="1093" y1="139" x2="818" y2="517" stroke-width="6" mask="url(#m1)"/><path stroke-width="5.5" mask="url(#m1)" d="M861.1 487.9 L818 517 L832.4 467"/><line x1="1129" y1="135" x2="1392" y2="510" stroke-width="4.8" mask="url(#m2)"/><path stroke-width="5" mask="url(#m2)" d="M1378.5 459.8 L1392 510 L1349.4 480.2"/><line x1="1176" y1="121" x2="1905" y2="512" stroke-width="4.8" mask="url(#m3)"/><path stroke-width="5.5" mask="url(#m3)" d="M1870.3 473.2 L1905 512 L1853.5 504.6"/><line x1="237" y1="653" x2="73" y2="901" stroke-width="5.2" mask="url(#m4)"/><path stroke-width="4.2" mask="url(#m4)" d="M114.8 870.1 L73 901 L85.1 850.4"/><line x1="238" y1="653" x2="241" y2="903" stroke-width="5.4" mask="url(#m5)"/><path stroke-width="4.2" mask="url(#m5)" d="M258.2 853.9 L241 903 L222.6 854.4"/><line x1="247" y1="653" x2="394" y2="900" stroke-width="6" mask="url(#m6)"/><path stroke-width="5.5" mask="url(#m6)" d="M384.3 848.9 L394 900 L353.7 867.1"/><line x1="780" y1="637" x2="595" y2="887" stroke-width="6.2" mask="url(#m7)"/><path stroke-width="6" mask="url(#m7)" d="M638.4 858.3 L595 887 L609.8 837.1"/><line x1="780" y1="637" x2="727" y2="886" stroke-width="5" mask="url(#m8)"/><path stroke-width="4.5" mask="url(#m8)" d="M754.6 841.9 L727 886 L719.8 834.5"/><line x1="783" y1="643" x2="872" y2="886" stroke-width="4.4" mask="url(#m9)"/><path stroke-width="4.5" mask="url(#m9)" d="M871.9 834 L872 886 L838.5 846.2"/><line x1="792" y1="635" x2="1011" y2="887" stroke-width="4.6" mask="url(#m10)"/><path stroke-width="4.5" mask="url(#m10)" d="M992.4 838.5 L1011 887 L965.5 861.8"/><line x1="1375" y1="635" x2="1187" y2="883" stroke-width="6.2" mask="url(#m11)"/><path stroke-width="6" mask="url(#m11)" d="M1230.7 854.8 L1187 883 L1202.3 833.3"/><line x1="1375" y1="635" x2="1318.5" y2="879" stroke-width="4.6" mask="url(#m12)"/><path stroke-width="4.5" mask="url(#m12)" d="M1346.8 835.4 L1318.5 879 L1312.2 827.4"/><line x1="1379" y1="635" x2="1467.6" y2="879" stroke-width="6.2" mask="url(#m13)"/><path stroke-width="5" mask="url(#m13)" d="M1467.6 827 L1467.6 879 L1434.2 839.1"/><line x1="1383" y1="633" x2="1604" y2="886" stroke-width="4.4" mask="url(#m14)"/><path stroke-width="4.5" mask="url(#m14)" d="M1585.2 837.5 L1604 886 L1558.5 860.9"/><line x1="1940" y1="633" x2="1751" y2="884.5" stroke-width="4.8" mask="url(#m15)"/><path stroke-width="4.5" mask="url(#m15)" d="M1794.6 856.1 L1751 884.5 L1766.1 834.8"/><line x1="1940" y1="633" x2="1887.5" y2="877" stroke-width="5.2" mask="url(#m16)"/><path stroke-width="5" mask="url(#m16)" d="M1915.2 833 L1887.5 877 L1880.4 825.5"/><line x1="1942" y1="637" x2="2031" y2="880" stroke-width="4.4" mask="url(#m17)"/><path stroke-width="4.5" mask="url(#m17)" d="M2030.9 828 L2031 880 L1997.5 840.2"/><line x1="1950.5" y1="631.6" x2="2164" y2="883" stroke-width="5.8" mask="url(#m18)"/><path stroke-width="5" mask="url(#m18)" d="M2145.9 834.2 L2164 883 L2118.8 857.3"/><line x1="238" y1="1029" x2="234" y2="1189" stroke-width="5.6" mask="url(#m19)"/><path stroke-width="4.2" mask="url(#m19)" d="M253 1140.6 L234 1189 L217.4 1139.7"/><line x1="396.5" y1="1015.4" x2="336" y2="1181" stroke-width="5" mask="url(#m20)"/><path stroke-width="5.5" mask="url(#m20)" d="M369.5 1141.2 L336 1181 L336.1 1129"/><line x1="398.5" y1="1015.4" x2="459.7" y2="1188.8" stroke-width="5" mask="url(#m21)"/><path stroke-width="5" mask="url(#m21)" d="M460.2 1136.8 L459.7 1188.8 L426.7 1148.6"/><line x1="453" y1="1309.5" x2="447.5" y2="1411" stroke-width="4.8" stroke-dasharray="16 20"/><path stroke-width="4.3" d="M467.9 1363.2 L447.5 1411 L432.4 1361.2"/><line x1="732" y1="1013" x2="722" y2="1183" stroke-width="6" mask="url(#m23)"/><path stroke-width="4.5" mask="url(#m23)" d="M742.6 1135.3 L722 1183 L707.1 1133.2"/><line x1="872" y1="1013" x2="826" y2="1174" stroke-width="4.8" mask="url(#m24)"/><path stroke-width="5.5" mask="url(#m24)" d="M850.7 1140 L826 1174 L823 1132.1"/><line x1="874.6" y1="1014.5" x2="946" y2="1180" stroke-width="4.8" mask="url(#m25)"/><path stroke-width="5.5" mask="url(#m25)" d="M943 1128.1 L946 1180 L910.3 1142.2"/><line x1="1002.5" y1="1011.6" x2="1001" y2="1362" stroke-width="4.8" stroke-dasharray="16 20"/><path stroke-width="4.5" d="M1019 1313.2 L1001 1362 L983.4 1313.1"/><line x1="720.6" y1="1306.6" x2="718.6" y2="1418.5" stroke-width="4.8" stroke-dasharray="16 20"/><path stroke-width="4.3" d="M737.3 1370 L718.6 1418.5 L701.7 1369.3"/><line x1="939.4" y1="1305" x2="937.7" y2="1418.5" stroke-width="4.8" stroke-dasharray="16 20"/><path stroke-width="4.3" d="M956.2 1369.9 L937.7 1418.5 L920.6 1369.4"/><line x1="1175" y1="1011.6" x2="1171" y2="1187" stroke-width="6" mask="url(#m29)"/><path stroke-width="5.5" mask="url(#m29)" d="M1189.9 1138.6 L1171 1187 L1154.3 1137.7"/><line x1="1313.8" y1="1011.6" x2="1261.5" y2="1181.6" stroke-width="4.8" mask="url(#m30)"/><path stroke-width="5" mask="url(#m30)" d="M1292.9 1140.1 L1261.5 1181.6 L1258.9 1129.7"/><line x1="1318" y1="1011.6" x2="1382" y2="1184.5" stroke-width="4.6" mask="url(#m31)"/><path stroke-width="4.5" mask="url(#m31)" d="M1381.7 1132.5 L1382 1184.5 L1348.4 1144.8"/><line x1="1460.5" y1="1010" x2="1457.6" y2="1348.7" stroke-width="4.8" stroke-dasharray="16 20"/><path stroke-width="4.5" d="M1475.8 1300 L1457.6 1348.7 L1440.2 1299.7"/><line x1="1595.7" y1="1007" x2="1589.5" y2="1350.3" stroke-width="4.8" stroke-dasharray="16 20"/><path stroke-width="4.7" d="M1608.2 1301.8 L1589.5 1350.3 L1572.6 1301.1"/><line x1="1373" y1="1305" x2="1373" y2="1418.5" stroke-width="4.8" stroke-dasharray="16 20"/><path stroke-width="4.3" d="M1390.8 1369.6 L1373 1418.5 L1355.2 1369.6"/><line x1="1735" y1="1003" x2="1678" y2="1171.5" stroke-width="5" mask="url(#m35)"/><path stroke-width="4.5" mask="url(#m35)" d="M1710.5 1130.9 L1678 1171.5 L1676.8 1119.5"/><line x1="1742" y1="1003" x2="1804.6" y2="1180" stroke-width="5.4" mask="url(#m36)"/><path stroke-width="5.5" mask="url(#m36)" d="M1805.1 1128 L1804.6 1180 L1771.5 1139.9"/><line x1="1877" y1="1004.4" x2="1874" y2="1346" stroke-width="4.8" stroke-dasharray="16 20"/><path stroke-width="4.5" d="M1892.2 1297.3 L1874 1346 L1856.6 1297"/><line x1="2030.5" y1="1013" x2="2029" y2="1341.6" stroke-width="4.8" stroke-dasharray="16 20"/><path stroke-width="4.5" d="M2047 1292.8 L2029 1341.6 L2011.4 1292.7"/><line x1="2165" y1="1007" x2="2159" y2="1343" stroke-width="4.8" stroke-dasharray="16 20"/><path stroke-width="4.5" d="M2177.7 1294.5 L2159 1343 L2142.1 1293.8"/><line x1="1790" y1="1303.8" x2="1788.6" y2="1418.6" stroke-width="4.8" stroke-dasharray="16 20"/><path stroke-width="4.3" d="M1807 1370 L1788.6 1418.6 L1771.4 1369.5"/></g><g fill="none" stroke="#1e1e1e" stroke-width="7.2" stroke-linecap="round" stroke-linejoin="round"><path transform="translate(1085.5 46.2)" fill="#1e1e1e" stroke="none" d="M0.3 14.1 C1 15.5 2.7 15.8 2.7 15.8 L5.8 16 L8 14.9 L7.7 18.7 L7.2 40 L7 47.2 Q7.3 50 10.6 50 Q13.8 50 14 47.7 L14.9 23.5 L15.3 2.7 Q15.1 0 13.6 0 L11.1 0.3 Q9.5 0.8 8.7 1.7 L3.9 7 L0.5 12.3 Q0 13.5 0.3 14.1 Z"/><path transform="translate(1108.7 39.2)" d="M24.2 6.8 C32 6.8 37.8 13 37.2 23.5 C36.5 37 26 53.5 15.6 53.6 C8 53.6 3.6 44 3.6 32.5 C3.6 19 12 6.8 24.2 6.8 Z M15.2 3.6 Q14 9 12.8 14"/><path transform="translate(220.2 561)" d="M15.4 4.2 C10 8.5 5 13 4 17 C3 22 5 25.8 11 26 L27.4 26.2 C31 26.2 34 26.5 35.5 27.2 M38.6 4.2 C35 13 31.5 22 30.8 30 L30 43.8"/><path transform="translate(768.5 543.2)" d="M30.6 4.5 C27 3 24 3 21 4.5 C12 9 5 20 4.7 35.3 C4.5 44 10 49.6 18.4 49.6 C25 49.6 31 44 31 37.6 C31 31 26 26.8 19.8 26.8 C15 26.8 11 28 7.6 30.5"/><path transform="translate(1361.3 536)" d="M3.4 4.9 C10 4.3 18 3.6 26.2 3.3 C25 8 22 15 19 22 C15 32 13 40 12.8 51.6 M6.5 24.7 C13 23.5 22 23 29.2 22.9"/><path transform="translate(1919.1 542.2)" d="M33.5 5.5 C31 3.5 28 3.5 24.3 3.6 C14 4 3.8 13 3.8 19.3 C3.8 23 7 24.6 10.3 24.6 C18 24.6 27 19 33.5 14 M33.4 4.7 C34 12 33.8 20 33.5 26 C33 33 32.5 40 32.4 45.6"/><path transform="translate(52.2 922.7)" d="M24.2 6.8 C32 6.8 37.8 13 37.2 23.5 C36.5 37 26 53.5 15.6 53.6 C8 53.6 3.6 44 3.6 32.5 C3.6 19 12 6.8 24.2 6.8 Z M15.2 3.6 Q14 9 12.8 14"/><path transform="translate(229.5 934.2)" fill="#1e1e1e" stroke="none" d="M0.3 14.1 C1 15.5 2.7 15.8 2.7 15.8 L5.8 16 L8 14.9 L7.7 18.7 L7.2 40 L7 47.2 Q7.3 50 10.6 50 Q13.8 50 14 47.7 L14.9 23.5 L15.3 2.7 Q15.1 0 13.6 0 L11.1 0.3 Q9.5 0.8 8.7 1.7 L3.9 7 L0.5 12.3 Q0 13.5 0.3 14.1 Z"/><path transform="translate(373.8 929.7)" d="M2.9 6.8 C6 4.5 10 3.7 15 3.7 C21 3.7 27 5 29.9 8.1 C28 12 17 14 11 18.9 C16 22.5 23 22 30 25 C37 28 41.8 32 41.8 37.6 C41.8 44 34 47.6 25.5 47.6 C17 47.6 10 45 4.8 43"/><path transform="translate(564.2 912.7)" d="M24.2 6.8 C32 6.8 37.8 13 37.2 23.5 C36.5 37 26 53.5 15.6 53.6 C8 53.6 3.6 44 3.6 32.5 C3.6 19 12 6.8 24.2 6.8 Z M15.2 3.6 Q14 9 12.8 14"/><path transform="translate(704.5 918.2)" d="M5.8 12.7 C8 6 14 3.9 19.5 3.9 C26 3.9 31 8 30.9 14.1 C30.8 20 28 26 24.5 30.5 C20 34.5 15 33 10.6 33.6 C6 34.2 4.4 36.5 4.4 38.8 C4.4 42 8 43.6 11.8 43.6 C16 43.6 20 40.5 23 37.8 C28 37.5 36 41 40.8 44.8"/><path transform="translate(846.8 916.2)" d="M2.9 6.8 C6 4.5 10 3.7 15 3.7 C21 3.7 27 5 29.9 8.1 C28 12 17 14 11 18.9 C16 22.5 23 22 30 25 C37 28 41.8 32 41.8 37.6 C41.8 44 34 47.6 25.5 47.6 C17 47.6 10 45 4.8 43"/><path transform="translate(982 917)" d="M35.8 4.7 C30 5.5 26 5.2 20 5 C15 4.8 11 4 8.3 4 L3.8 25.2 C8 24.5 11 24.5 14.6 23.8 C18 23 21 22.5 23.6 23 C29 24 31.9 29 31.9 35.1 C31.9 43 25 48.4 16.9 48.4 C11 48.4 6 45 3.4 42.3"/><path transform="translate(1168.5 916.2)" fill="#1e1e1e" stroke="none" d="M0.3 14.1 C1 15.5 2.7 15.8 2.7 15.8 L5.8 16 L8 14.9 L7.7 18.7 L7.2 40 L7 47.2 Q7.3 50 10.6 50 Q13.8 50 14 47.7 L14.9 23.5 L15.3 2.7 Q15.1 0 13.6 0 L11.1 0.3 Q9.5 0.8 8.7 1.7 L3.9 7 L0.5 12.3 Q0 13.5 0.3 14.1 Z"/><path transform="translate(1294.2 912.2)" d="M2.9 6.8 C6 4.5 10 3.7 15 3.7 C21 3.7 27 5 29.9 8.1 C28 12 17 14 11 18.9 C16 22.5 23 22 30 25 C37 28 41.8 32 41.8 37.6 C41.8 44 34 47.6 25.5 47.6 C17 47.6 10 45 4.8 43"/><path transform="translate(1437.8 913.5)" d="M15.4 4.2 C10 8.5 5 13 4 17 C3 22 5 25.8 11 26 L27.4 26.2 C31 26.2 34 26.5 35.5 27.2 M38.6 4.2 C35 13 31.5 22 30.8 30 L30 43.8"/><path transform="translate(1575.5 908.7)" d="M30.6 4.5 C27 3 24 3 21 4.5 C12 9 5 20 4.7 35.3 C4.5 44 10 49.6 18.4 49.6 C25 49.6 31 44 31 37.6 C31 31 26 26.8 19.8 26.8 C15 26.8 11 28 7.6 30.5"/><path transform="translate(1718.8 913.2)" d="M2.9 6.8 C6 4.5 10 3.7 15 3.7 C21 3.7 27 5 29.9 8.1 C28 12 17 14 11 18.9 C16 22.5 23 22 30 25 C37 28 41.8 32 41.8 37.6 C41.8 44 34 47.6 25.5 47.6 C17 47.6 10 45 4.8 43"/><path transform="translate(1862.5 911.8)" d="M35.8 4.7 C30 5.5 26 5.2 20 5 C15 4.8 11 4 8.3 4 L3.8 25.2 C8 24.5 11 24.5 14.6 23.8 C18 23 21 22.5 23.6 23 C29 24 31.9 29 31.9 35.1 C31.9 43 25 48.4 16.9 48.4 C11 48.4 6 45 3.4 42.3"/><path transform="translate(2009.5 907.2)" d="M30.6 4.5 C27 3 24 3 21 4.5 C12 9 5 20 4.7 35.3 C4.5 44 10 49.6 18.4 49.6 C25 49.6 31 44 31 37.6 C31 31 26 26.8 19.8 26.8 C15 26.8 11 28 7.6 30.5"/><path transform="translate(2133.6 912.4)" d="M30.3 5.1 C27 3 20 3 14 5 C8 7 4.4 10 4.4 13.3 C4.4 17 10 19.5 16.2 22 C24 25 31.7 29 31.7 36.6 C31.7 41.5 27 44.9 21.1 44.9 C16 44.9 12.8 41.5 12.8 36.6 C12.8 31 18 27 22 24 C30 17 39 11 47.2 8.3"/><path transform="translate(205.2 1211.2)" d="M24.2 6.8 C32 6.8 37.8 13 37.2 23.5 C36.5 37 26 53.5 15.6 53.6 C8 53.6 3.6 44 3.6 32.5 C3.6 19 12 6.8 24.2 6.8 Z M15.2 3.6 Q14 9 12.8 14"/><path transform="translate(316.2 1212.2)" d="M24.2 6.8 C32 6.8 37.8 13 37.2 23.5 C36.5 37 26 53.5 15.6 53.6 C8 53.6 3.6 44 3.6 32.5 C3.6 19 12 6.8 24.2 6.8 Z M15.2 3.6 Q14 9 12.8 14"/><path transform="translate(429.9 1218.7)" d="M5.8 12.7 C8 6 14 3.9 19.5 3.9 C26 3.9 31 8 30.9 14.1 C30.8 20 28 26 24.5 30.5 C20 34.5 15 33 10.6 33.6 C6 34.2 4.4 36.5 4.4 38.8 C4.4 42 8 43.6 11.8 43.6 C16 43.6 20 40.5 23 37.8 C28 37.5 36 41 40.8 44.8"/><path transform="translate(713 1211.2)" fill="#1e1e1e" stroke="none" d="M0.3 14.1 C1 15.5 2.7 15.8 2.7 15.8 L5.8 16 L8 14.9 L7.7 18.7 L7.2 40 L7 47.2 Q7.3 50 10.6 50 Q13.8 50 14 47.7 L14.9 23.5 L15.3 2.7 Q15.1 0 13.6 0 L11.1 0.3 Q9.5 0.8 8.7 1.7 L3.9 7 L0.5 12.3 Q0 13.5 0.3 14.1 Z"/><path transform="translate(809.8 1203)" d="M24.2 6.8 C32 6.8 37.8 13 37.2 23.5 C36.5 37 26 53.5 15.6 53.6 C8 53.6 3.6 44 3.6 32.5 C3.6 19 12 6.8 24.2 6.8 Z M15.2 3.6 Q14 9 12.8 14"/><path transform="translate(918 1210)" d="M5.8 12.7 C8 6 14 3.9 19.5 3.9 C26 3.9 31 8 30.9 14.1 C30.8 20 28 26 24.5 30.5 C20 34.5 15 33 10.6 33.6 C6 34.2 4.4 36.5 4.4 38.8 C4.4 42 8 43.6 11.8 43.6 C16 43.6 20 40.5 23 37.8 C28 37.5 36 41 40.8 44.8"/><path transform="translate(1137 1209.2)" d="M24.2 6.8 C32 6.8 37.8 13 37.2 23.5 C36.5 37 26 53.5 15.6 53.6 C8 53.6 3.6 44 3.6 32.5 C3.6 19 12 6.8 24.2 6.8 Z M15.2 3.6 Q14 9 12.8 14"/><path transform="translate(1245 1207.9)" d="M24.2 6.8 C32 6.8 37.8 13 37.2 23.5 C36.5 37 26 53.5 15.6 53.6 C8 53.6 3.6 44 3.6 32.5 C3.6 19 12 6.8 24.2 6.8 Z M15.2 3.6 Q14 9 12.8 14"/><path transform="translate(1353.8 1213)" d="M5.8 12.7 C8 6 14 3.9 19.5 3.9 C26 3.9 31 8 30.9 14.1 C30.8 20 28 26 24.5 30.5 C20 34.5 15 33 10.6 33.6 C6 34.2 4.4 36.5 4.4 38.8 C4.4 42 8 43.6 11.8 43.6 C16 43.6 20 40.5 23 37.8 C28 37.5 36 41 40.8 44.8"/><path transform="translate(1658.8 1200.2)" d="M24.2 6.8 C32 6.8 37.8 13 37.2 23.5 C36.5 37 26 53.5 15.6 53.6 C8 53.6 3.6 44 3.6 32.5 C3.6 19 12 6.8 24.2 6.8 Z M15.2 3.6 Q14 9 12.8 14"/><path transform="translate(1772 1207.2)" d="M5.8 12.7 C8 6 14 3.9 19.5 3.9 C26 3.9 31 8 30.9 14.1 C30.8 20 28 26 24.5 30.5 C20 34.5 15 33 10.6 33.6 C6 34.2 4.4 36.5 4.4 38.8 C4.4 42 8 43.6 11.8 43.6 C16 43.6 20 40.5 23 37.8 C28 37.5 36 41 40.8 44.8"/><path transform="translate(643.9 295)" d="M30.6 4.5 C27 3 24 3 21 4.5 C12 9 5 20 4.7 35.3 C4.5 44 10 49.6 18.4 49.6 C25 49.6 31 44 31 37.6 C31 31 26 26.8 19.8 26.8 C15 26.8 11 28 7.6 30.5"/><path transform="translate(934.5 298.9)" d="M15.4 4.2 C10 8.5 5 13 4 17 C3 22 5 25.8 11 26 L27.4 26.2 C31 26.2 34 26.5 35.5 27.2 M38.6 4.2 C35 13 31.5 22 30.8 30 L30 43.8"/><path transform="translate(1235 291)" d="M2.9 6.8 C6 4.5 10 3.7 15 3.7 C21 3.7 27 5 29.9 8.1 C28 12 17 14 11 18.9 C16 22.5 23 22 30 25 C37 28 41.8 32 41.8 37.6 C41.8 44 34 47.6 25.5 47.6 C17 47.6 10 45 4.8 43"/><path transform="translate(1529.2 288.6)" fill="#1e1e1e" stroke="none" d="M0.3 14.1 C1 15.5 2.7 15.8 2.7 15.8 L5.8 16 L8 14.9 L7.7 18.7 L7.2 40 L7 47.2 Q7.3 50 10.6 50 Q13.8 50 14 47.7 L14.9 23.5 L15.3 2.7 Q15.1 0 13.6 0 L11.1 0.3 Q9.5 0.8 8.7 1.7 L3.9 7 L0.5 12.3 Q0 13.5 0.3 14.1 Z"/><path transform="translate(131.8 746.7)" d="M15.4 4.2 C10 8.5 5 13 4 17 C3 22 5 25.8 11 26 L27.4 26.2 C31 26.2 34 26.5 35.5 27.2 M38.6 4.2 C35 13 31.5 22 30.8 30 L30 43.8"/><path transform="translate(215.6 747.9)" d="M2.9 6.8 C6 4.5 10 3.7 15 3.7 C21 3.7 27 5 29.9 8.1 C28 12 17 14 11 18.9 C16 22.5 23 22 30 25 C37 28 41.8 32 41.8 37.6 C41.8 44 34 47.6 25.5 47.6 C17 47.6 10 45 4.8 43"/><path transform="translate(308.2 748.5)" fill="#1e1e1e" stroke="none" d="M0.3 14.1 C1 15.5 2.7 15.8 2.7 15.8 L5.8 16 L8 14.9 L7.7 18.7 L7.2 40 L7 47.2 Q7.3 50 10.6 50 Q13.8 50 14 47.7 L14.9 23.5 L15.3 2.7 Q15.1 0 13.6 0 L11.1 0.3 Q9.5 0.8 8.7 1.7 L3.9 7 L0.5 12.3 Q0 13.5 0.3 14.1 Z"/><path transform="translate(669.2 728.5)" d="M30.6 4.5 C27 3 24 3 21 4.5 C12 9 5 20 4.7 35.3 C4.5 44 10 49.6 18.4 49.6 C25 49.6 31 44 31 37.6 C31 31 26 26.8 19.8 26.8 C15 26.8 11 28 7.6 30.5"/><path transform="translate(731 732)" d="M15.4 4.2 C10 8.5 5 13 4 17 C3 22 5 25.8 11 26 L27.4 26.2 C31 26.2 34 26.5 35.5 27.2 M38.6 4.2 C35 13 31.5 22 30.8 30 L30 43.8"/><path transform="translate(805.5 731.5)" d="M2.9 6.8 C6 4.5 10 3.7 15 3.7 C21 3.7 27 5 29.9 8.1 C28 12 17 14 11 18.9 C16 22.5 23 22 30 25 C37 28 41.8 32 41.8 37.6 C41.8 44 34 47.6 25.5 47.6 C17 47.6 10 45 4.8 43"/><path transform="translate(890.2 730)" fill="#1e1e1e" stroke="none" d="M0.3 14.1 C1 15.5 2.7 15.8 2.7 15.8 L5.8 16 L8 14.9 L7.7 18.7 L7.2 40 L7 47.2 Q7.3 50 10.6 50 Q13.8 50 14 47.7 L14.9 23.5 L15.3 2.7 Q15.1 0 13.6 0 L11.1 0.3 Q9.5 0.8 8.7 1.7 L3.9 7 L0.5 12.3 Q0 13.5 0.3 14.1 Z"/><path transform="translate(1261.7 725.5)" d="M30.6 4.5 C27 3 24 3 21 4.5 C12 9 5 20 4.7 35.3 C4.5 44 10 49.6 18.4 49.6 C25 49.6 31 44 31 37.6 C31 31 26 26.8 19.8 26.8 C15 26.8 11 28 7.6 30.5"/><path transform="translate(1323 726.5)" d="M15.4 4.2 C10 8.5 5 13 4 17 C3 22 5 25.8 11 26 L27.4 26.2 C31 26.2 34 26.5 35.5 27.2 M38.6 4.2 C35 13 31.5 22 30.8 30 L30 43.8"/><path transform="translate(1397.5 728.5)" d="M2.9 6.8 C6 4.5 10 3.7 15 3.7 C21 3.7 27 5 29.9 8.1 C28 12 17 14 11 18.9 C16 22.5 23 22 30 25 C37 28 41.8 32 41.8 37.6 C41.8 44 34 47.6 25.5 47.6 C17 47.6 10 45 4.8 43"/><path transform="translate(1483.2 728)" fill="#1e1e1e" stroke="none" d="M0.3 14.1 C1 15.5 2.7 15.8 2.7 15.8 L5.8 16 L8 14.9 L7.7 18.7 L7.2 40 L7 47.2 Q7.3 50 10.6 50 Q13.8 50 14 47.7 L14.9 23.5 L15.3 2.7 Q15.1 0 13.6 0 L11.1 0.3 Q9.5 0.8 8.7 1.7 L3.9 7 L0.5 12.3 Q0 13.5 0.3 14.1 Z"/><path transform="translate(1827.2 724.5)" d="M30.6 4.5 C27 3 24 3 21 4.5 C12 9 5 20 4.7 35.3 C4.5 44 10 49.6 18.4 49.6 C25 49.6 31 44 31 37.6 C31 31 26 26.8 19.8 26.8 C15 26.8 11 28 7.6 30.5"/><path transform="translate(1889 726)" d="M15.4 4.2 C10 8.5 5 13 4 17 C3 22 5 25.8 11 26 L27.4 26.2 C31 26.2 34 26.5 35.5 27.2 M38.6 4.2 C35 13 31.5 22 30.8 30 L30 43.8"/><path transform="translate(1962.5 726.5)" d="M2.9 6.8 C6 4.5 10 3.7 15 3.7 C21 3.7 27 5 29.9 8.1 C28 12 17 14 11 18.9 C16 22.5 23 22 30 25 C37 28 41.8 32 41.8 37.6 C41.8 44 34 47.6 25.5 47.6 C17 47.6 10 45 4.8 43"/><path transform="translate(2048.8 726.5)" fill="#1e1e1e" stroke="none" d="M0.3 14.1 C1 15.5 2.7 15.8 2.7 15.8 L5.8 16 L8 14.9 L7.7 18.7 L7.2 40 L7 47.2 Q7.3 50 10.6 50 Q13.8 50 14 47.7 L14.9 23.5 L15.3 2.7 Q15.1 0 13.6 0 L11.1 0.3 Q9.5 0.8 8.7 1.7 L3.9 7 L0.5 12.3 Q0 13.5 0.3 14.1 Z"/><path transform="translate(225.1 1078.8)" fill="#1e1e1e" stroke="none" d="M0.3 14.1 C1 15.5 2.7 15.8 2.7 15.8 L5.8 16 L8 14.9 L7.7 18.7 L7.2 40 L7 47.2 Q7.3 50 10.6 50 Q13.8 50 14 47.7 L14.9 23.5 L15.3 2.7 Q15.1 0 13.6 0 L11.1 0.3 Q9.5 0.8 8.7 1.7 L3.9 7 L0.5 12.3 Q0 13.5 0.3 14.1 Z"/><path transform="translate(340.7 1069.9)" d="M2.9 6.8 C6 4.5 10 3.7 15 3.7 C21 3.7 27 5 29.9 8.1 C28 12 17 14 11 18.9 C16 22.5 23 22 30 25 C37 28 41.8 32 41.8 37.6 C41.8 44 34 47.6 25.5 47.6 C17 47.6 10 45 4.8 43"/><path transform="translate(419.2 1072.7)" fill="#1e1e1e" stroke="none" d="M0.3 14.1 C1 15.5 2.7 15.8 2.7 15.8 L5.8 16 L8 14.9 L7.7 18.7 L7.2 40 L7 47.2 Q7.3 50 10.6 50 Q13.8 50 14 47.7 L14.9 23.5 L15.3 2.7 Q15.1 0 13.6 0 L11.1 0.3 Q9.5 0.8 8.7 1.7 L3.9 7 L0.5 12.3 Q0 13.5 0.3 14.1 Z"/><path transform="translate(717.2 1066.5)" fill="#1e1e1e" stroke="none" d="M0.3 14.1 C1 15.5 2.7 15.8 2.7 15.8 L5.8 16 L8 14.9 L7.7 18.7 L7.2 40 L7 47.2 Q7.3 50 10.6 50 Q13.8 50 14 47.7 L14.9 23.5 L15.3 2.7 Q15.1 0 13.6 0 L11.1 0.3 Q9.5 0.8 8.7 1.7 L3.9 7 L0.5 12.3 Q0 13.5 0.3 14.1 Z"/><path transform="translate(824.5 1064.5)" d="M2.9 6.8 C6 4.5 10 3.7 15 3.7 C21 3.7 27 5 29.9 8.1 C28 12 17 14 11 18.9 C16 22.5 23 22 30 25 C37 28 41.8 32 41.8 37.6 C41.8 44 34 47.6 25.5 47.6 C17 47.6 10 45 4.8 43"/><path transform="translate(898.9 1066.5)" fill="#1e1e1e" stroke="none" d="M0.3 14.1 C1 15.5 2.7 15.8 2.7 15.8 L5.8 16 L8 14.9 L7.7 18.7 L7.2 40 L7 47.2 Q7.3 50 10.6 50 Q13.8 50 14 47.7 L14.9 23.5 L15.3 2.7 Q15.1 0 13.6 0 L11.1 0.3 Q9.5 0.8 8.7 1.7 L3.9 7 L0.5 12.3 Q0 13.5 0.3 14.1 Z"/><path transform="translate(1163.2 1068)" fill="#1e1e1e" stroke="none" d="M0.3 14.1 C1 15.5 2.7 15.8 2.7 15.8 L5.8 16 L8 14.9 L7.7 18.7 L7.2 40 L7 47.2 Q7.3 50 10.6 50 Q13.8 50 14 47.7 L14.9 23.5 L15.3 2.7 Q15.1 0 13.6 0 L11.1 0.3 Q9.5 0.8 8.7 1.7 L3.9 7 L0.5 12.3 Q0 13.5 0.3 14.1 Z"/><path transform="translate(1265.1 1066)" d="M2.9 6.8 C6 4.5 10 3.7 15 3.7 C21 3.7 27 5 29.9 8.1 C28 12 17 14 11 18.9 C16 22.5 23 22 30 25 C37 28 41.8 32 41.8 37.6 C41.8 44 34 47.6 25.5 47.6 C17 47.6 10 45 4.8 43"/><path transform="translate(1339.2 1068)" fill="#1e1e1e" stroke="none" d="M0.3 14.1 C1 15.5 2.7 15.8 2.7 15.8 L5.8 16 L8 14.9 L7.7 18.7 L7.2 40 L7 47.2 Q7.3 50 10.6 50 Q13.8 50 14 47.7 L14.9 23.5 L15.3 2.7 Q15.1 0 13.6 0 L11.1 0.3 Q9.5 0.8 8.7 1.7 L3.9 7 L0.5 12.3 Q0 13.5 0.3 14.1 Z"/><path transform="translate(1683.3 1057.5)" d="M2.9 6.8 C6 4.5 10 3.7 15 3.7 C21 3.7 27 5 29.9 8.1 C28 12 17 14 11 18.9 C16 22.5 23 22 30 25 C37 28 41.8 32 41.8 37.6 C41.8 44 34 47.6 25.5 47.6 C17 47.6 10 45 4.8 43"/><path transform="translate(1762 1059.3)" fill="#1e1e1e" stroke="none" d="M0.3 14.1 C1 15.5 2.7 15.8 2.7 15.8 L5.8 16 L8 14.9 L7.7 18.7 L7.2 40 L7 47.2 Q7.3 50 10.6 50 Q13.8 50 14 47.7 L14.9 23.5 L15.3 2.7 Q15.1 0 13.6 0 L11.1 0.3 Q9.5 0.8 8.7 1.7 L3.9 7 L0.5 12.3 Q0 13.5 0.3 14.1 Z"/></g></svg></body></html>
